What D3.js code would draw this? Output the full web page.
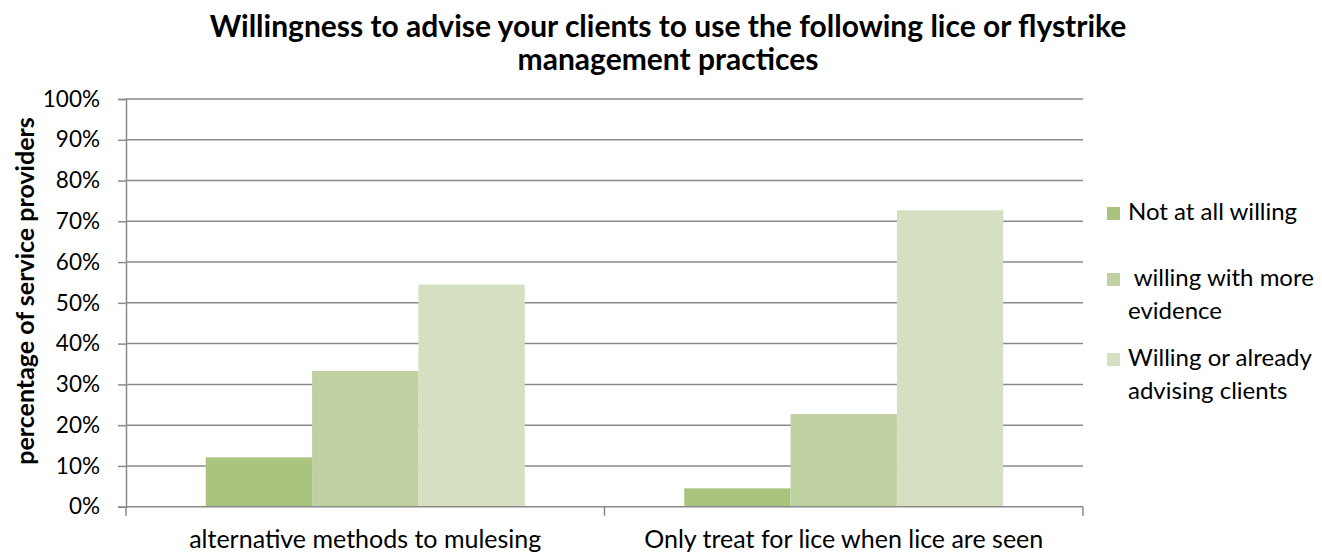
<!DOCTYPE html>
<html><head><meta charset="utf-8">
<script src="https://cdn.jsdelivr.net/npm/d3@7"></script>
<style>body{margin:0;background:#fff;} text{font-family:Lato,"Open Sans",sans-serif;fill:#000;}</style>
</head><body><svg id="c" width="1322" height="552"></svg>
<script>
const categories = ["alternative methods to mulesing", "Only treat for lice when lice are seen"];
const seriesNames = ["Not at all willing", " willing with more evidence", "Willing or already advising clients"];
const legendLines = [["Not at all willing"], [" willing with more", "evidence"], ["Willing or already", "advising clients"]];
const notWilling = [12.1, 4.5];
const willingMoreEvidence = [33.3, 22.7];
const willingAlready = [54.5, 72.7];
const yTicks = [0,10,20,30,40,50,60,70,80,90,100];
const colors = ["#AAC47D", "#C0D1A1", "#D5E0C3"];
const titleLines = ["Willingness to advise your clients to use the following lice or flystrike", "management practices"];
const yTitle = "percentage of service providers";

const series = [notWilling, willingMoreEvidence, willingAlready];
const svg = d3.select("#c");
const m = {l:126, r:1083, t:99, b:506.7};
const x = d3.scaleBand().domain(categories).range([m.l, m.r]).paddingInner(0).paddingOuter(0);
const bw = x.bandwidth();
const barW = bw / (3 + 1.5);
const x1 = d3.scaleBand().domain(d3.range(3)).range([0, 3*barW]);
const y = d3.scaleLinear().domain([0,100]).range([m.b, m.t]);

// gridlines
svg.append("g").selectAll("line").data(yTicks.filter(d=>d>0)).join("line")
  .attr("x1", m.l).attr("x2", m.r).attr("y1", d=>y(d)).attr("y2", d=>y(d))
  .attr("stroke", "#8a8a8a").attr("stroke-width", 1.5);

// bars
const g = svg.append("g");
categories.forEach((c, ci) => {
  series.forEach((s, si) => {
    g.append("rect")
      .attr("x", x(c) + barW*0.75 + x1(si))
      .attr("width", barW)
      .attr("y", y(s[ci]))
      .attr("height", y(0) - y(s[ci]))
      .attr("fill", colors[si]);
  });
});

// y axis
const yAxis = d3.axisLeft(y).tickValues(yTicks).tickFormat(d => d + "%").tickSize(8).tickPadding(18);
const ya = svg.append("g").attr("transform", `translate(${m.l},0)`).call(yAxis);
ya.select(".domain").attr("stroke", "#8a8a8a").attr("stroke-width", 1.5);
ya.selectAll(".tick line").attr("stroke", "#8a8a8a").attr("stroke-width", 1.5);
ya.selectAll(".tick text").style("font-size", "22.5px").style("font-family", "Lato, sans-serif").attr("fill", "#000");

// x axis
const xa = svg.append("g").attr("transform", `translate(0,${m.b})`);
xa.append("line").attr("x1", m.l).attr("x2", m.r).attr("stroke", "#8a8a8a").attr("stroke-width", 1.5);
const bounds = [m.l].concat(categories.map(c => x(c) + bw));
xa.selectAll(".tk").data(bounds).join("line").attr("class","tk")
  .attr("x1", d=>d).attr("x2", d=>d).attr("y1", 0).attr("y2", 9)
  .attr("stroke", "#8a8a8a").attr("stroke-width", 1.5);
xa.selectAll("text").data(categories).join("text")
  .attr("x", d => x(d) + bw/2).attr("y", 41).attr("text-anchor", "middle")
  .style("font-size", "25px").text(d => d);

// title
svg.append("text").attr("x", 668).attr("y", 37).attr("text-anchor","middle")
  .style("font-size","30px").style("font-weight","bold").text(titleLines[0]);
svg.append("text").attr("x", 668).attr("y", 70).attr("text-anchor","middle")
  .style("font-size","30px").style("font-weight","bold").text(titleLines[1]);

// y title
svg.append("text").attr("transform", "translate(34,291) rotate(-90)").attr("text-anchor","middle")
  .style("font-size","25px").style("font-weight","bold").text(yTitle);

// legend
const legY = [207, 273, 353];
legendLines.forEach((lines, i) => {
  svg.append("rect").attr("x", 1107).attr("y", legY[i]).attr("width", 13).attr("height", 13).attr("fill", colors[i]);
  lines.forEach((t, j) => {
    svg.append("text").attr("x", 1128).attr("y", legY[i] + 13 + j*33)
      .style("font-size","24px").style("white-space","pre").attr("xml:space","preserve").text(t);
  });
});
</script></body></html>
